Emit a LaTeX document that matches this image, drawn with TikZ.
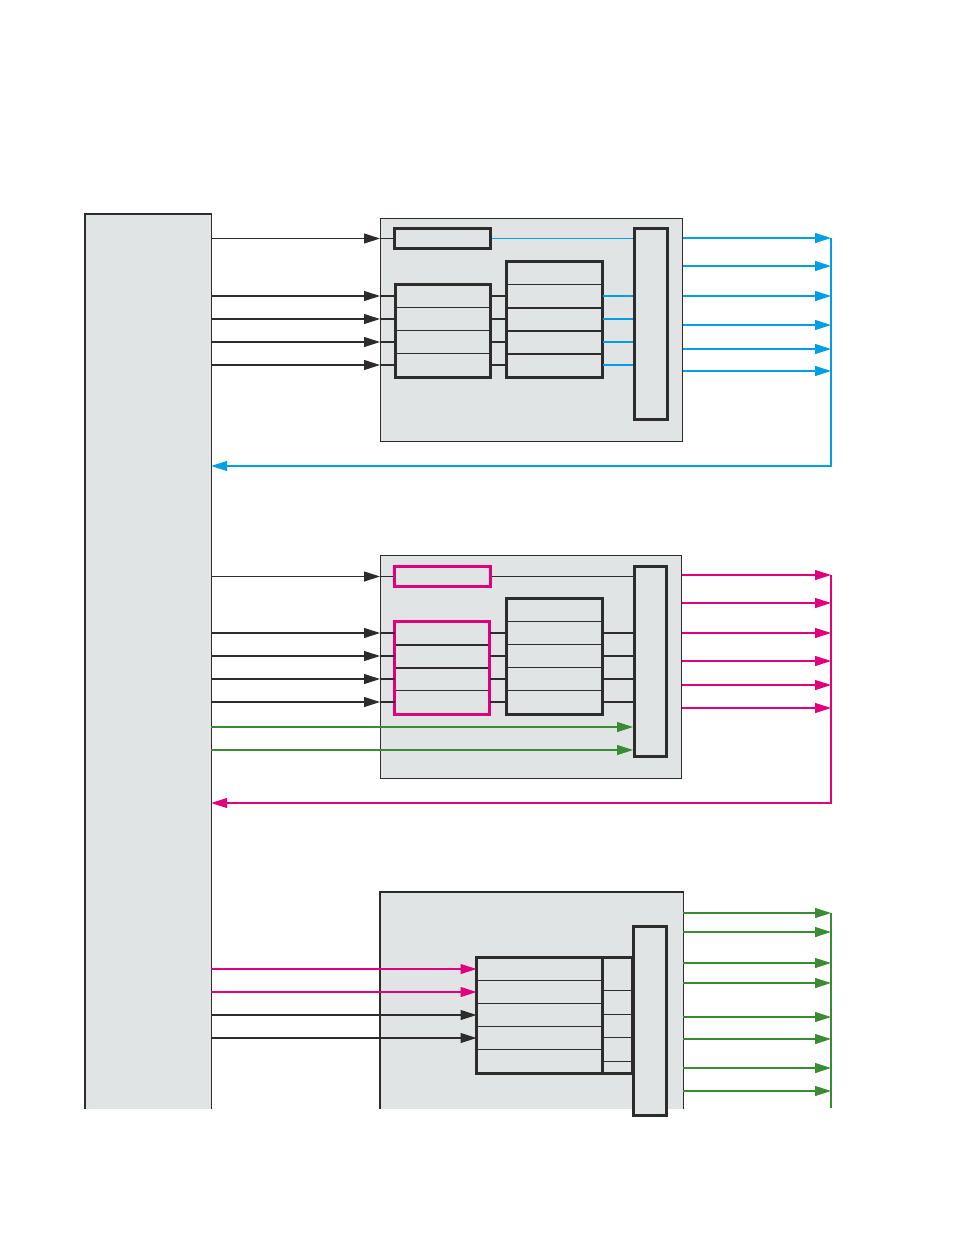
\documentclass[tikz,border=0pt]{standalone}
\usepackage{tikz}
\usetikzlibrary{arrows.meta,positioning,fit}
\definecolor{ink}{HTML}{2D2C2B}
\definecolor{paper}{HTML}{E1E4E5}
\definecolor{sigcyan}{HTML}{009FE3}
\definecolor{sigmag}{HTML}{E2007A}
\definecolor{siggreen}{HTML}{3A8C34}

\begin{document}
\begin{tikzpicture}[
    x=1pt, y=-1pt,
    panel/.style={draw=ink, fill=paper, line width=1.2pt, inner sep=0pt, anchor=north west},
    cell/.style={draw=ink, fill=paper, line width=1pt, inner sep=0pt, minimum height=23pt, anchor=north west},
    frame/.style={draw=ink, line width=3pt},
    sig/.style={line width=1.1pt},
    arrow/.style={-{Triangle[length=16pt, width=10pt]}, sig}
]
\useasboundingbox (0,0) rectangle (954,1235);

% controller column, open at the bottom
\node[panel, draw=none, minimum width=125pt, minimum height=894pt] (ctrl) at (85,214) {};
\draw[ink, line width=1.2pt] (ctrl.south west) |- (ctrl.north east) -- (ctrl.south east);

% ---- panel 1 (cyan outputs)
\node[panel, minimum width=302pt, minimum height=223pt] (p1) at (380,218) {};
\node[cell, frame, minimum width=96pt, minimum height=20pt] (r1) at (393,227) {};
\foreach \i in {1,...,4}
    \node[cell, minimum width=94pt] (a\i) at (395.5,{284+23*(\i-1)}) {};
\draw[frame] (a1.north west) rectangle (a4.south east);
\foreach \i in {0,...,4}
    \node[cell, minimum width=95pt] (b\i) at (506.5,{261+23*\i}) {};
\foreach \i in {1,2,3}
    \draw[ink, line width=2pt] (b\i.south west) -- (b\i.south east);
\draw[frame] (b0.north west) rectangle (b4.south east);
\node[cell, frame, minimum width=33pt, minimum height=191pt] (t1) at (633,227) {};

\draw[arrow, ink] (ctrl.east |- r1) -- (p1.west |- r1);
\draw[sig, ink] (p1.west |- r1) -- (r1.west);
\draw[sig, sigcyan] (r1.east) -- (t1.west |- r1);
\foreach \i in {1,...,4} {
    \draw[arrow, ink] (ctrl.east |- a\i) -- (p1.west |- a\i);
    \draw[sig, ink] (p1.west |- a\i) -- (a\i.west) (a\i.east) -- (b\i.west);
    \draw[sig, sigcyan] (b\i.east) -- (t1.west |- b\i);
}
\coordinate (bus1) at (831,238);
\coordinate (ret1) at (831,466);
\foreach \y in {238,266,296,325,349,371}
    \draw[arrow, sigcyan] (p1.east |- 0,\y) -- (bus1 |- 0,\y);
\draw[arrow, sigcyan] (bus1) -- (ret1) -- (ctrl.east |- ret1);

% ---- panel 2 (magenta outputs)
\node[panel, minimum width=301pt, minimum height=223pt] (p2) at (380,555) {};
\node[cell, frame, draw=sigmag, minimum width=96pt, minimum height=20pt] (r2) at (393,565) {};
\foreach \i in {1,...,4}
    \node[cell, minimum width=94pt] (c\i) at (394.5,{621+23*(\i-1)}) {};
\foreach \i in {1,2}
    \draw[ink, line width=2pt] (c\i.south west) -- (c\i.south east);
\draw[frame, sigmag] (c1.north west) rectangle (c4.south east);
\foreach \i in {0,...,4}
    \node[cell, minimum width=95pt] (d\i) at (506.5,{598+23*\i}) {};
\draw[frame] (d0.north west) rectangle (d4.south east);
\node[cell, frame, minimum width=32pt, minimum height=190pt] (t2) at (633,565) {};

\draw[arrow, ink] (ctrl.east |- r2) -- (p2.west |- r2);
\draw[sig, ink] (p2.west |- r2) -- (r2.west) (r2.east) -- (t2.west |- r2);
\foreach \i in {1,...,4} {
    \draw[arrow, ink] (ctrl.east |- c\i) -- (p2.west |- c\i);
    \draw[sig, ink] (p2.west |- c\i) -- (c\i.west) (c\i.east) -- (d\i.west);
    \draw[sig, ink] (d\i.east) -- (t2.west |- d\i);
}
\foreach \y in {727,750}
    \draw[arrow, siggreen] (ctrl.east |- 0,\y) -- (t2.west |- 0,\y);
\coordinate (bus2) at (831,575);
\coordinate (ret2) at (831,803);
\foreach \y in {575,603,633,661,685,708}
    \draw[arrow, sigmag] (p2.east |- 0,\y) -- (bus2 |- 0,\y);
\draw[arrow, sigmag] (bus2) -- (ret2) -- (ctrl.east |- ret2);

% ---- panel 3 (green outputs), open at the bottom
\node[panel, draw=none, minimum width=302pt, minimum height=216pt] (p3) at (380,892) {};
\draw[ink, line width=1.2pt] (p3.south west) |- (p3.north east) -- (p3.south east);
\foreach \i in {1,...,5}
    \node[cell, minimum width=124.5pt] (e\i) at (476.5,{957+23*(\i-1)}) {};
\node[cell, minimum width=29pt, minimum height=115pt] (fcol) at (602,957) {};
\foreach \y in {990,1014,1037,1061}
    \draw[ink, line width=1pt] (fcol.west |- 0,\y) -- (fcol.east |- 0,\y);
\draw[frame] (e1.north west) rectangle (fcol.south east);
\draw[frame] (fcol.north west) -- (fcol.south west);
\node[cell, frame, minimum width=33pt, minimum height=189pt] (t3) at (632,925) {};

\foreach \i in {1,2}
    \draw[arrow, sigmag] (ctrl.east |- e\i) -- (e\i.west);
\foreach \i in {3,4}
    \draw[arrow, ink] (ctrl.east |- e\i) -- (e\i.west);
\coordinate (bus3) at (831,913);
\coordinate (bus3b) at (831,1108);
\foreach \y in {913,932,963,983,1017,1039,1068,1091}
    \draw[arrow, siggreen] (p3.east |- 0,\y) -- (bus3 |- 0,\y);
\draw[sig, siggreen] (bus3) -- (bus3b);
\end{tikzpicture}
\end{document}
